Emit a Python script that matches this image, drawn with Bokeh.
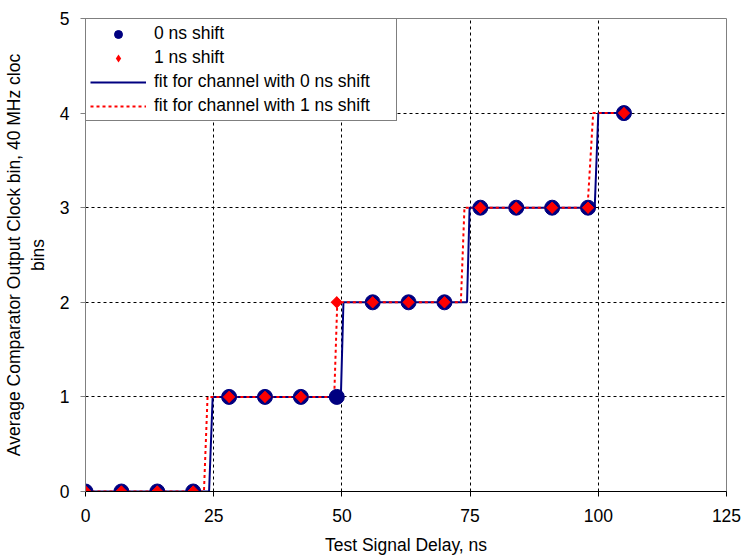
import numpy as np
from bokeh.plotting import figure
from bokeh.models import Range1d, FixedTicker, Legend, LegendItem
from bokeh.embed import file_html
from bokeh.resources import INLINE

# ---- data ----
delay_ns = [0, 7, 14, 21, 28, 35, 42, 49, 56, 63, 70, 77, 84, 91, 98, 105]
bin_0ns = [0, 0, 0, 0, 1, 1, 1, 1, 2, 2, 2, 3, 3, 3, 3, 4]
bin_1ns = [0, 0, 0, 0, 1, 1, 1, 2, 2, 2, 2, 3, 3, 3, 3, 4]

fit0_x = [0, 24.1, 24.8, 49.8, 50.3, 74.4, 74.9, 99.3, 100.0, 105]
fit0_y = [0, 0, 1, 1, 2, 2, 3, 3, 4, 4]
fit1_x = [0, 23.1, 23.8, 48.5, 49.1, 73.2, 73.9, 97.9, 99.0, 105]
fit1_y = [0, 0, 1, 1, 2, 2, 3, 3, 4, 4]

x_ticks = [0, 25, 50, 75, 100, 125]
y_ticks = [0, 1, 2, 3, 4, 5]

FONT = "Liberation Sans"
FS = "17.5px"

p = figure(width=742, height=558, output_backend="svg", toolbar_location=None,
           x_range=Range1d(0, 125), y_range=Range1d(0, 5),
           min_border_left=85, min_border_right=16, min_border_top=18,
           min_border_bottom=67)
p.background_fill_color = "white"
p.border_fill_color = "white"
p.outline_line_color = "#808080"
p.outline_line_width = 1

# axes
p.xaxis.ticker = FixedTicker(ticks=x_ticks)
p.yaxis.ticker = FixedTicker(ticks=y_ticks)
for ax in (p.xaxis[0], p.yaxis[0]):
    ax.major_label_text_font = FONT
    ax.major_label_text_font_size = FS
    ax.major_label_text_color = "black"
    ax.axis_label_text_font = FONT
    ax.axis_label_text_font_size = FS
    ax.axis_label_text_font_style = "normal"
    ax.axis_label_text_color = "black"
    ax.minor_tick_line_color = None
    ax.major_tick_in = 0
    ax.major_tick_out = 5

p.xaxis.axis_label = "Test Signal Delay, ns"
p.xaxis.axis_line_color = "black"
p.xaxis.major_tick_line_color = "black"
p.xaxis.major_label_standoff = 12
p.xaxis.axis_label_standoff = 10

p.yaxis.axis_label = "Average Comparator Output Clock bin, 40 MHz cloc\nbins"
p.yaxis.axis_line_color = "#808080"
p.yaxis.major_tick_line_color = "#808080"
p.yaxis.major_label_standoff = 11
p.yaxis.axis_label_standoff = 9

# grid
for g in (p.xgrid[0], p.ygrid[0]):
    g.grid_line_color = "black"
    g.grid_line_dash = "3 3"
    g.grid_line_width = 1
    g.grid_line_alpha = 1.0

# fit lines
l0 = p.line(fit0_x, fit0_y, line_color="#000080", line_width=2)
l1 = p.line(fit1_x, fit1_y, line_color="#FF0000", line_width=2, line_dash="3 3")

# points
c0 = p.scatter(delay_ns, bin_0ns, marker="circle", size=15,
               fill_color="#000080", line_color="#000080")
# diamond symbol used as legend key (hidden under the rotated squares below)
c1_key = p.scatter(delay_ns, bin_1ns, marker="diamond", size=12,
                   fill_color="#FF0000", line_color=None)
c1 = p.scatter(delay_ns, bin_1ns, marker="square", angle=np.pi / 4, size=8,
               fill_color="#FF0000", line_color="#FF0000")

legend = Legend(items=[
    LegendItem(label="0 ns shift", renderers=[c0]),
    LegendItem(label="1 ns shift", renderers=[c1_key]),
    LegendItem(label="fit for channel with 0 ns shift", renderers=[l0]),
    LegendItem(label="fit for channel with 1 ns shift", renderers=[l1]),
], location="top_left")
legend.margin = 0
legend.padding = 4
legend.spacing = 3
legend.glyph_width = 56
legend.glyph_height = 20
legend.label_height = 20
legend.label_standoff = 8
legend.label_width = 238
legend.label_text_font = FONT
legend.label_text_font_size = FS
legend.label_text_color = "black"
legend.border_line_color = "black"
legend.border_line_width = 1
legend.background_fill_color = "white"
legend.background_fill_alpha = 1.0
p.add_layout(legend, "center")

open("out.html", "w").write(file_html(p, INLINE))
